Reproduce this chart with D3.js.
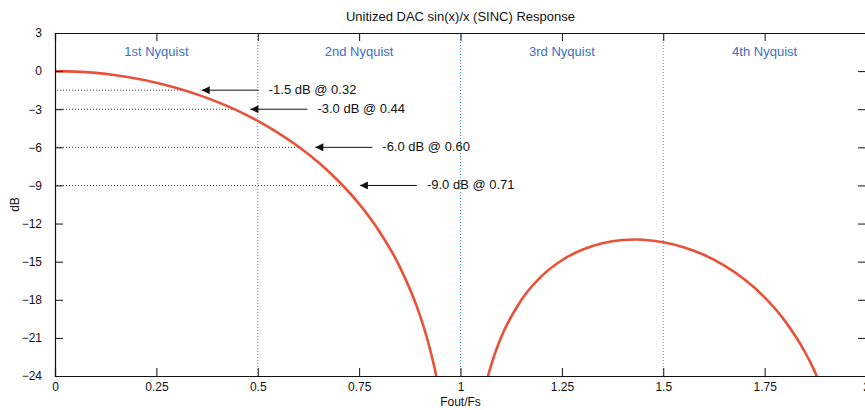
<!DOCTYPE html>
<html>
  <head>
    <meta charset="utf-8">
    <script type="text/javascript" src="https://d3js.org/d3.v7.min.js"></script>
    <style>
      body { margin: 0; background: #fff; }
      text { font-family: "Liberation Sans", Arial, sans-serif; font-size: 12px; }
    </style>
  </head>
  <body>
    <script type="text/javascript">
        // main lobe (Fout/Fs, dB)
        var lobe1X = [0, 0.05, 0.1, 0.15, 0.2, 0.25, 0.3, 0.35, 0.4, 0.45, 0.5, 0.55, 0.6, 0.65, 0.7, 0.75, 0.8, 0.85, 0.9, 0.92, 0.94, 0.95];
        var lobe1Y = [0, -0.04, -0.14, -0.32, -0.58, -0.91, -1.33, -1.83, -2.42, -3.11, -3.92, -4.86, -5.94, -7.20, -8.69, -10.45, -12.62, -15.39, -19.23, -21.31, -23.95, -25.6];
        // second lobe
        var lobe2X = [1.06, 1.07, 1.08, 1.1, 1.15, 1.2, 1.25, 1.3, 1.35, 1.4, 1.43, 1.45, 1.5, 1.55, 1.6, 1.65, 1.7, 1.75, 1.8, 1.85, 1.87, 1.88];
        var lobe2Y = [-25.0, -23.76, -22.70, -20.97, -18.02, -16.14, -14.89, -14.06, -13.55, -13.30, -13.26, -13.28, -13.47, -13.86, -14.46, -15.29, -16.39, -17.81, -19.66, -22.15, -23.40, -24.11];

        var markDb = [-1.5, -3.0, -6.0, -9.0];
        var markFreq = [0.32, 0.44, 0.60, 0.71];
        var markLabels = ["-1.5 dB @ 0.32", "-3.0 dB @ 0.44", "-6.0 dB @ 0.60", "-9.0 dB @ 0.71"];

        var zoneEdges = [0.5, 1, 1.5];
        var zoneNames = ["1st Nyquist", "2nd Nyquist", "3rd Nyquist", "4th Nyquist"];
        var zoneCenters = [0.25, 0.75, 1.25, 1.75];

        var xTicks = [0, 0.25, 0.5, 0.75, 1, 1.25, 1.5, 1.75, 2];
        var yTicks = [3, 0, -3, -6, -9, -12, -15, -18, -21, -24];

        var width = 865, height = 410;
        var margin = {top: 33, right: -1, bottom: 34, left: 55};
        var iw = width - margin.left - margin.right,
            ih = height - margin.top - margin.bottom;

        var svg = d3.select("body").append("svg")
                    .attr("width", width)
                    .attr("height", height);

        var x = d3.scaleLinear().domain([0, 2]).range([0, iw]);
        var y = d3.scaleLinear().domain([-24, 3]).range([ih, 0]);

        var defs = svg.append("defs");
        defs.append("clipPath").attr("id", "clip")
            .append("rect").attr("width", iw).attr("height", ih);
        defs.append("marker")
            .attr("id", "arrow")
            .attr("viewBox", "0 0 10 10")
            .attr("refX", 0).attr("refY", 5)
            .attr("markerWidth", 12).attr("markerHeight", 8)
            .attr("markerUnits", "userSpaceOnUse")
            .attr("orient", "0")
            .append("path").attr("d", "M0,5L10,0L10,10Z").attr("fill", "#111");

        var g = svg.append("g").attr("transform", "translate(" + margin.left + "," + margin.top + ")");

        //Nyquist zone boundaries
        g.selectAll(".zone").data(zoneEdges).enter().append("line")
            .attr("x1", d => x(d)).attr("x2", d => x(d))
            .attr("y1", 0).attr("y2", ih)
            .attr("stroke", "#3a9ccc")
            .attr("stroke-width", 1)
            .attr("stroke-dasharray", "1,2");

        g.selectAll(".zlabel").data(zoneNames).enter().append("text")
            .attr("x", (d, i) => x(zoneCenters[i]))
            .attr("y", 23)
            .attr("text-anchor", "middle")
            .attr("fill", "#3c6fc2")
            .style("font-size", "13px")
            .text(d => d);

        //dotted dB levels
        g.selectAll(".lvl").data(markDb).enter().append("line")
            .attr("x1", 2).attr("x2", (d, i) => x(markFreq[i]))
            .attr("y1", d => y(d)).attr("y2", d => y(d))
            .attr("stroke", "#333")
            .attr("stroke-width", 1)
            .attr("stroke-dasharray", "1,2");

        //curve
        var line = d3.line().x(d => x(d[0])).y(d => y(d[1])).curve(d3.curveMonotoneX);
        var lobes = [d3.zip(lobe1X, lobe1Y), d3.zip(lobe2X, lobe2Y)];
        g.append("g").attr("clip-path", "url(#clip)")
            .selectAll("path").data(lobes).enter().append("path")
            .attr("d", line)
            .attr("fill", "none")
            .attr("stroke", "#e8523a")
            .attr("stroke-width", 2.6);

        //arrows + labels
        var ann = g.selectAll(".ann").data(markDb).enter().append("g");
        ann.append("line")
            .attr("x1", (d, i) => x(markFreq[i]) + 17)
            .attr("x2", (d, i) => x(markFreq[i]) + 74)
            .attr("y1", d => y(d)).attr("y2", d => y(d))
            .attr("stroke", "#111").attr("stroke-width", 1)
            .attr("marker-start", "url(#arrow)");
        ann.append("text")
            .attr("x", (d, i) => x(markFreq[i]) + 84)
            .attr("y", d => y(d) + 4)
            .attr("fill", "#111")
            .style("font-size", "13px")
            .text((d, i) => markLabels[i]);

        //axes, matlab style ticks on all sides
        var xb = g.append("g").attr("transform", "translate(0," + ih + ")")
            .call(d3.axisBottom(x).tickValues(xTicks).tickSize(-8).tickPadding(6).tickFormat(d3.format("")));
        var xt = g.append("g")
            .call(d3.axisTop(x).tickValues(xTicks).tickSize(-8).tickFormat(""));
        var yl = g.append("g")
            .call(d3.axisLeft(y).tickValues(yTicks).tickSize(-8).tickPadding(13));
        var yr = g.append("g").attr("transform", "translate(" + iw + ",0)")
            .call(d3.axisRight(y).tickValues(yTicks).tickSize(-8).tickFormat(""));
        [xb, xt, yl, yr].forEach(function (a) {
            a.select(".domain").attr("stroke", "#111").attr("stroke-width", 1.2);
            a.selectAll(".tick line").attr("stroke", "#111");
            a.selectAll(".tick text").attr("fill", "#111")
                .style("font-family", "'Liberation Sans', Arial, sans-serif").style("font-size", "12px");
        });
        // hide the end ticks that sit on the box
        xb.selectAll(".tick").filter(d => d === 0 || d === 2).select("line").remove();
        xt.selectAll(".tick").filter(d => d === 0 || d === 2).select("line").remove();
        yl.selectAll(".tick").filter(d => d === 3 || d === -24).select("line").remove();
        yr.selectAll(".tick").filter(d => d === 3 || d === -24).select("line").remove();

        svg.append("text")
            .attr("x", margin.left + iw / 2).attr("y", 21)
            .attr("text-anchor", "middle").attr("fill", "#111")
            .style("font-size", "13px")
            .text("Unitized DAC sin(x)/x (SINC) Response");
        svg.append("text")
            .attr("x", margin.left + iw / 2).attr("y", 406)
            .attr("text-anchor", "middle").attr("fill", "#111")
            .text("Fout/Fs");
        svg.append("text")
            .attr("transform", "translate(19," + (margin.top + y(-10.5)) + ") rotate(-90)")
            .attr("text-anchor", "middle").attr("fill", "#111")
            .text("dB");
    </script>
  </body>
</html>
